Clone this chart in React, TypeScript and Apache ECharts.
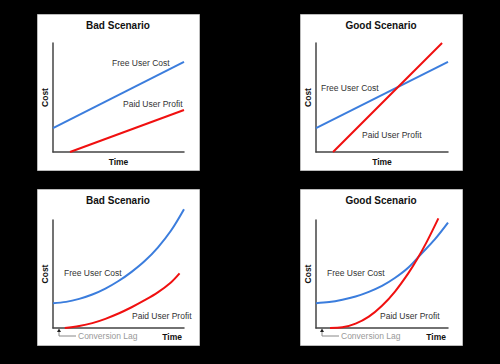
import React, { useEffect, useRef } from "react";
import * as echarts from "echarts";

const titles = ["Bad Scenario", "Good Scenario", "Bad Scenario", "Good Scenario"];
const freeLabel = "Free User Cost";
const paidLabel = "Paid User Profit";
const lagLabel = "Conversion Lag";

// linear scenarios (top row)
const badLinearFree = [[0, 2.2], [10, 8.26]];
const badLinearPaid = [[1.3, 0], [10, 3.85]];
const goodLinearFree = [[0, 2.2], [10, 8.26]];
const goodLinearPaid = [[1.29, 0], [9.55, 10]];

// curved scenarios (bottom row)
const badCurveFree = [[0, 2.3], [1, 2.42], [2, 2.7], [3, 3.1], [4, 3.65], [5, 4.35], [6, 5.2], [7, 6.2], [8, 7.45], [9, 9.0], [10, 11.0]];
const badCurvePaid = [[0.9, 0], [2, 0.18], [3, 0.45], [4, 0.85], [5, 1.34], [6, 1.92], [7, 2.57], [8, 3.3], [9, 4.22], [9.66, 5.06]];
const goodCurveFree = [[0, 2.3], [1, 2.4], [2, 2.62], [3, 2.92], [4, 3.35], [5, 3.9], [6, 4.65], [7, 5.6], [8, 6.9], [9, 8.2], [10, 9.75]];
const goodCurvePaid = [[1.06, 0], [2, 0.06], [3, 0.4], [4, 1.05], [5, 2.06], [6, 3.4], [7, 5.08], [7.67, 6.39], [8.4, 8.0], [9.27, 10.15]];

const FONT = "'Liberation Sans', Arial, Helvetica, sans-serif";
const BLUE = "#3b7ddd";
const RED = "#f01010";

export default function App() {
  const ref = useRef<HTMLDivElement>(null);
  useEffect(() => {
    document.body.style.margin = "0";
    document.body.style.background = "#000";
    const chart = echarts.init(ref.current!, null, { renderer: "svg" });

    const grids = [
      { left: 53, top: 43, width: 131, height: 109 },
      { left: 316, top: 43, width: 132, height: 109 },
      { left: 53, top: 220, width: 131, height: 108 },
      { left: 316, top: 220, width: 132, height: 108 },
    ];
    const panels = [
      { x: 37, y: 14 },
      { x: 300, y: 14 },
      { x: 37, y: 189 },
      { x: 300, y: 189 },
    ];
    const axisLine = { show: true, lineStyle: { color: "#444", width: 1.5 } };
    const nameStyle = { fontFamily: FONT, fontWeight: "bold", fontSize: 8.5, color: "#111" };

    const xAxes = grids.map((_, i) => ({
      type: "value",
      gridIndex: i,
      min: 0,
      max: 10,
      axisLine,
      axisTick: { show: false },
      axisLabel: { show: false },
      splitLine: { show: false },
      name: "Time",
      nameLocation: i < 2 ? "middle" : "end",
      nameGap: i < 2 ? 5 : -2,
      nameTextStyle:
        i < 2
          ? { ...nameStyle, verticalAlign: "top" }
          : { ...nameStyle, align: "right", verticalAlign: "top", padding: [4, 0, 0, 0] },
    }));
    const yAxes = grids.map((_, i) => ({
      type: "value",
      gridIndex: i,
      min: 0,
      max: 10,
      axisLine,
      axisTick: { show: false },
      axisLabel: { show: false },
      splitLine: { show: false },
      name: "Cost",
      nameLocation: "middle",
      nameGap: 4,
      nameTextStyle: nameStyle,
    }));

    const mk = (data: number[][], idx: number, color: string, smooth: boolean) => ({
      type: "line",
      xAxisIndex: idx,
      yAxisIndex: idx,
      data,
      smooth: smooth ? 0.35 : false,
      showSymbol: false,
      clip: false,
      lineStyle: { color, width: 2 },
      z: 5,
    });

    const textEl = (text: string, x: number, y: number, opts: any = {}) => ({
      type: "text",
      x,
      y,
      z: 20,
      style: {
        text,
        fontFamily: FONT,
        fontSize: 8.5,
        fill: "#333",
        verticalAlign: "middle",
        ...opts,
      },
    });

    const arrow = (x: number, endX: number) => [
      {
        type: "polygon",
        z: 20,
        shape: { points: [[x, 328.5], [x - 2, 332], [x + 2, 332]] },
        style: { fill: "#222" },
      },
      {
        type: "polyline",
        z: 20,
        shape: { points: [[x, 332], [x, 336], [endX, 336]] },
        style: { stroke: "#888", lineWidth: 1, fill: "none" },
      },
    ];

    const graphic: any[] = [
      ...panels.map((p) => ({
        type: "rect",
        z: 0,
        shape: { x: p.x + 0.5, y: p.y + 0.5, width: 162, height: 156 },
        style: { fill: "#fff", stroke: "#bbb", lineWidth: 1 },
      })),
      textEl(freeLabel, 112, 63),
      textEl(paidLabel, 123, 104),
      textEl(freeLabel, 321, 88),
      textEl(paidLabel, 362, 135),
      textEl(freeLabel, 64, 273),
      textEl(paidLabel, 132, 316),
      textEl(freeLabel, 327, 273),
      textEl(paidLabel, 380, 316),
      textEl(lagLabel, 78, 336, { fill: "#999", fontSize: 8.5 }),
      textEl(lagLabel, 341, 336, { fill: "#999", fontSize: 8.5 }),
      ...arrow(59, 76),
      ...arrow(322, 339),
    ];

    const titleCenters = [
      [118, 26],
      [381, 26],
      [118, 201],
      [381, 201],
    ];

    chart.setOption({
      animation: false,
      backgroundColor: "#000",
      title: titles.map((t, i) => ({
        text: t,
        left: titleCenters[i][0],
        top: titleCenters[i][1] - 6,
        textAlign: "center",
        padding: 0,
        textStyle: { fontFamily: FONT, fontWeight: "bold", fontSize: 10, color: "#111" },
        z: 20,
      })),
      grid: grids,
      xAxis: xAxes,
      yAxis: yAxes,
      graphic,
      series: [
        mk(badLinearFree, 0, BLUE, false),
        mk(badLinearPaid, 0, RED, false),
        mk(goodLinearFree, 1, BLUE, false),
        mk(goodLinearPaid, 1, RED, false),
        mk(badCurveFree, 2, BLUE, true),
        mk(badCurvePaid, 2, RED, true),
        mk(goodCurveFree, 3, BLUE, true),
        mk(goodCurvePaid, 3, RED, true),
      ],
    });
    return () => chart.dispose();
  }, []);
  return (
    <div
      ref={ref}
      style={{ position: "fixed", left: 0, top: 0, width: 500, height: 364, background: "#000" }}
    />
  );
}
